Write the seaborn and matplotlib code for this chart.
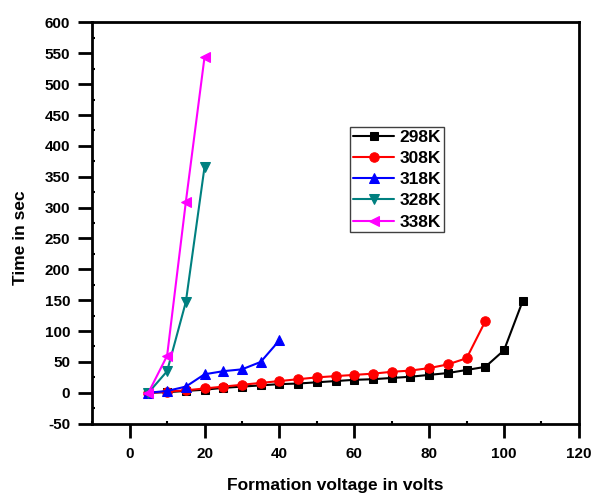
import numpy as np
import pandas as pd
import matplotlib
matplotlib.use("Agg")
import matplotlib.pyplot as plt
import seaborn as sns
from matplotlib.ticker import MultipleLocator

sns.set_theme(style="ticks")
plt.rcParams['font.family'] = ['Liberation Sans', 'DejaVu Sans']
plt.rcParams['font.weight'] = 'bold'
plt.rcParams['axes.unicode_minus'] = False
plt.rcParams['text.color'] = 'black'
plt.rcParams['axes.labelcolor'] = 'black'
plt.rcParams['xtick.color'] = 'black'
plt.rcParams['ytick.color'] = 'black'

# data
v_298 = [5, 10, 15, 20, 25, 30, 35, 40, 45, 50, 55, 60, 65, 70, 75, 80, 85, 90, 95, 100, 105]
t_298 = [0, 1, 3, 5, 8, 10, 12, 14, 15, 17, 19, 21, 22, 24, 26, 29, 32, 37, 42, 69, 149]
v_308 = [5, 10, 15, 20, 25, 30, 35, 40, 45, 50, 55, 60, 65, 70, 75, 80, 85, 90, 95]
t_308 = [0, 2, 4, 7, 10, 13, 16, 19, 22, 25, 27, 29, 31, 34, 36, 40, 46, 56, 116]
v_318 = [5, 10, 15, 20, 25, 30, 35, 40]
t_318 = [0, 3, 10, 30, 35, 38, 50, 85]
v_328 = [5, 10, 15, 20]
t_328 = [0, 35, 147, 366]
v_338 = [5, 10, 15, 20]
t_338 = [0, 60, 309, 544]

series = [
    ('298K', v_298, t_298, 'black', 's', 6),
    ('308K', v_308, t_308, 'red', 'o', 6.8),
    ('318K', v_318, t_318, 'blue', '^', 7),
    ('328K', v_328, t_328, '#008080', 'v', 7),
    ('338K', v_338, t_338, '#FF00FF', '<', 7),
]

fig = plt.figure(figsize=(5.95, 4.99), dpi=100)
ax = fig.add_axes([0.155, 0.151, 0.818, 0.804])

for label, x, y, color, marker, ms in series:
    sns.lineplot(x=x, y=y, ax=ax, color=color, marker=marker, markersize=ms,
                 markeredgecolor=color, linewidth=1.5, label=label)

ax.set_xlim(-10, 120)
ax.set_ylim(-50, 600)
ax.xaxis.set_major_locator(MultipleLocator(20))
ax.xaxis.set_minor_locator(MultipleLocator(10))
ax.yaxis.set_major_locator(MultipleLocator(50))
ax.yaxis.set_minor_locator(MultipleLocator(25))

for s in ax.spines.values():
    s.set_visible(True)
    s.set_linewidth(2)
    s.set_color('black')

ax.set_xlabel('Formation voltage in volts', fontsize=12.5, fontweight='bold')
ax.set_ylabel('Time in sec', fontsize=12.5, fontweight='bold')
ax.xaxis.set_label_coords(0.5, -0.135)
ax.yaxis.set_label_coords(-0.132, 0.463)

leg = ax.legend(loc='upper left', bbox_to_anchor=(0.53, 0.7395), fancybox=False,
                edgecolor='#404040', framealpha=1, prop={'weight': 'bold', 'size': 12.5},
                handlelength=2.4, handletextpad=0.3, borderpad=0.15, labelspacing=0.35,
                borderaxespad=0)
leg.get_frame().set_linewidth(1)

# ticks last: major outward, minor inward
ax.tick_params(which='both', bottom=True, left=True, top=False, right=False)
ax.tick_params(which='major', direction='out', length=10, width=2, labelsize=11,
               color='black')
ax.tick_params(axis='y', which='major', pad=6)
ax.tick_params(axis='x', which='major', pad=7)
ax.tick_params(which='minor', direction='in', length=2.5, width=1.5, color='black')
for lbl in ax.get_xticklabels() + ax.get_yticklabels():
    lbl.set_fontweight('bold')

fig.savefig('out.png', dpi=100)
